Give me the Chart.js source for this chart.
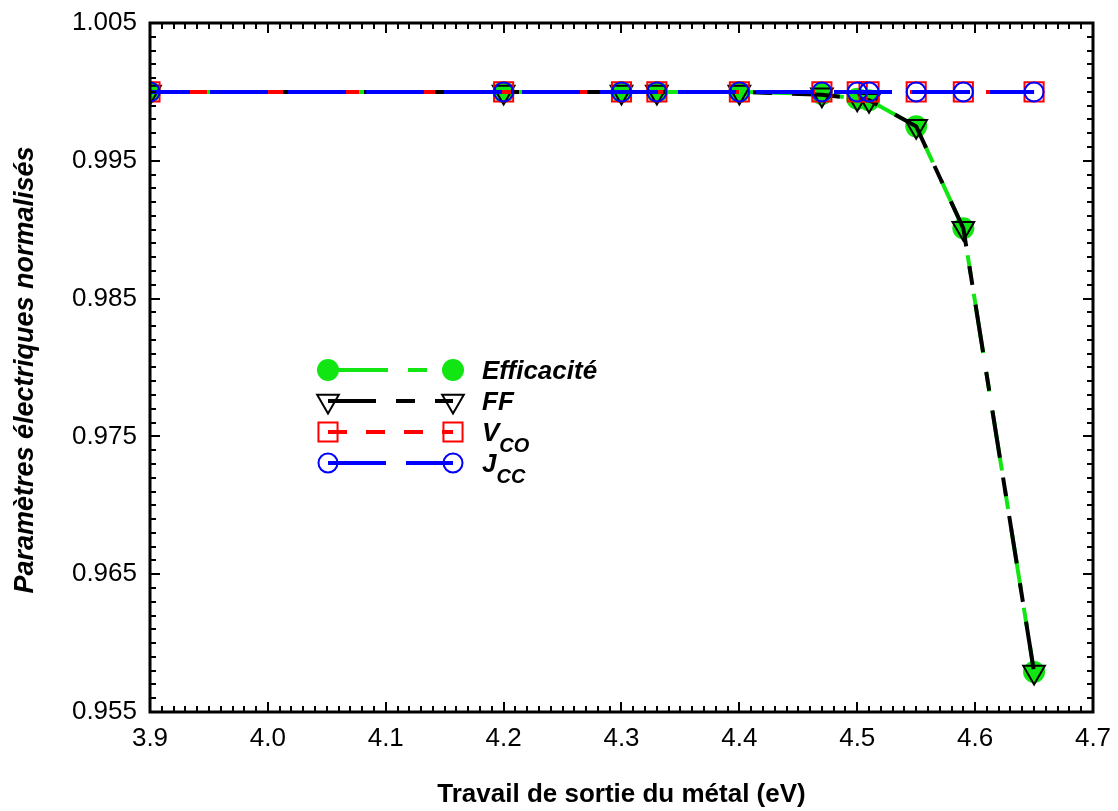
<!DOCTYPE html>
<html lang="fr">
<head>
<meta charset="utf-8">
<title>Paramètres électriques normalisés</title>
<script src="https://cdn.jsdelivr.net/npm/chart.js@4.4.1/dist/chart.umd.min.js"></script>
<style>
  html, body { margin: 0; padding: 0; background: #fff; }
  #wrap { width: 1118px; height: 811px; position: relative; }
</style>
</head>
<body>
<div id="wrap"><canvas id="chart"></canvas></div>
<script>
// travail de sortie du métal (eV)
const travail = [3.9, 4.2, 4.3, 4.33, 4.4, 4.47, 4.5, 4.51, 4.55, 4.59, 4.65];

// paramètres normalisés
const efficacite = [1, 1, 1, 1, 1, 0.99985, 0.9995, 0.9994, 0.9975, 0.9901, 0.9579];
const ff = [1, 1, 1, 1, 1, 0.9998, 0.9995, 0.9994, 0.9975, 0.9901, 0.9579];
const vco = [1, 1, 1, 1, 1, 1, 1, 1, 1, 1, 1];
const jcc = [1, 1, 1, 1, 1, 1, 1, 1, 1, 1, 1];

// graduations
const xTicks = [3.9, 4.0, 4.1, 4.2, 4.3, 4.4, 4.5, 4.6, 4.7];
const yTicks = [0.955, 0.965, 0.975, 0.985, 0.995, 1.005];

const FONT = '"Liberation Sans", Arial, Helvetica, sans-serif';
const VERT = "#12e612";

Chart.defaults.font.family = FONT;
Chart.defaults.color = "#000";

const points = (values) => travail.map((x, i) => ({ x: x, y: values[i] }));

//dessine un marqueur pour la légende
const marker = (ctx, style, x, y) => {
  ctx.save();
  ctx.setLineDash([]);
  ctx.lineWidth = 2;
  ctx.beginPath();
  if (style === "eff") {
    ctx.fillStyle = VERT;
    ctx.arc(x, y, 11, 0, Math.PI * 2);
    ctx.fill();
  } else if (style === "ff") {
    const r = 12.5;
    ctx.strokeStyle = "#000";
    ctx.moveTo(x, y + r);
    ctx.lineTo(x - r * Math.sin(Math.PI / 3), y - r / 2);
    ctx.lineTo(x + r * Math.sin(Math.PI / 3), y - r / 2);
    ctx.closePath();
    ctx.stroke();
  } else if (style === "vco") {
    const s = 13.5 * Math.SQRT1_2;
    ctx.strokeStyle = "#ff0000";
    ctx.rect(x - s, y - s, 2 * s, 2 * s);
    ctx.stroke();
  } else {
    ctx.strokeStyle = "#0000ff";
    ctx.arc(x, y, 9.5, 0, Math.PI * 2);
    ctx.stroke();
  }
  ctx.restore();
};

//pas de marge automatique autour des étiquettes, la zone du graphe suit layout.padding
const noOverhang = (scale) => {
  scale.paddingTop = 0;
  scale.paddingBottom = 0;
  scale.paddingLeft = 0;
  scale.paddingRight = 0;
};

// cadre, graduations intérieures, titres des axes et légende
const cadre = {
  id: "cadre",
  afterDraw(chart) {
    const { ctx, chartArea: a, scales } = chart;
    const x = scales.x;
    const y = scales.y;
    ctx.save();
    ctx.strokeStyle = "#000";
    ctx.lineWidth = 2;
    ctx.beginPath();
    for (let i = 0; i <= 80; i++) {
      const px = Math.round(x.getPixelForValue(3.9 + i * 0.01));
      const len = i % 10 === 0 ? 10 : 6;
      ctx.moveTo(px, a.bottom);
      ctx.lineTo(px, a.bottom - len);
      ctx.moveTo(px, a.top);
      ctx.lineTo(px, a.top + len);
    }
    for (let i = 0; i <= 50; i++) {
      const py = Math.round(y.getPixelForValue(0.955 + i * 0.001));
      const len = i % 10 === 0 ? 10 : 6;
      ctx.moveTo(a.left, py);
      ctx.lineTo(a.left + len, py);
      ctx.moveTo(a.right, py);
      ctx.lineTo(a.right - len, py);
    }
    ctx.stroke();

    ctx.lineWidth = 3;
    ctx.strokeRect(a.left, a.top, a.right - a.left, a.bottom - a.top);

    // titres
    ctx.fillStyle = "#000";
    ctx.textAlign = "center";
    ctx.textBaseline = "alphabetic";
    ctx.font = "bold 26px " + FONT;
    ctx.fillText("Travail de sortie du métal (eV)", (a.left + a.right) / 2, 802);
    ctx.save();
    ctx.translate(33, 370);
    ctx.rotate(-Math.PI / 2);
    ctx.font = "italic bold 27px " + FONT;
    ctx.fillText("Paramètres électriques normalisés", 0, 0);
    ctx.restore();

    // légende
    const rows = [
      { y: 370, color: VERT, dash: [60, 20, 19, 20], style: "eff", text: "Efficacité", sub: "" },
      { y: 401, color: "#000", dash: [48, 20, 19, 20], style: "ff", text: "FF", sub: "" },
      { y: 432, color: "#ff0000", dash: [19, 19], style: "vco", text: "V", sub: "CO" },
      { y: 463, color: "#0000ff", dash: [58, 20], style: "jcc", text: "J", sub: "CC" },
    ];
    ctx.textAlign = "left";
    rows.forEach((r) => {
      ctx.save();
      ctx.strokeStyle = r.color;
      ctx.lineWidth = 4;
      ctx.setLineDash(r.dash);
      ctx.beginPath();
      ctx.moveTo(328, r.y);
      ctx.lineTo(453, r.y);
      ctx.stroke();
      ctx.restore();
      marker(ctx, r.style, 328, r.y);
      marker(ctx, r.style, 453, r.y);
      ctx.font = "italic bold 26px " + FONT;
      ctx.fillText(r.text, 482, r.y + 9);
      if (r.sub) {
        const w = ctx.measureText(r.text).width;
        ctx.font = "italic bold 20px " + FONT;
        ctx.fillText(r.sub, 482 + w, r.y + 20);
      }
    });
    ctx.restore();
  },
};

const canvas = document.querySelector("#chart");
const ctx = canvas.getContext("2d");

new Chart(ctx, {
  type: "line",
  data: {
    datasets: [
      {
        label: "Efficacité",
        data: points(efficacite),
        borderColor: VERT,
        borderWidth: 4,
        borderDash: [60, 20, 19, 20],
        pointStyle: "circle",
        pointRadius: 11,
        pointBackgroundColor: VERT,
        pointBorderColor: VERT,
        pointBorderWidth: 0,
        order: 4,
      },
      {
        label: "FF",
        data: points(ff),
        borderColor: "#000",
        borderWidth: 4,
        borderDash: [48, 20, 19, 20],
        pointStyle: "triangle",
        pointRotation: 180,
        pointRadius: 12.5,
        pointBackgroundColor: "rgba(0,0,0,0)",
        pointBorderColor: "#000",
        pointBorderWidth: 2,
        order: 3,
      },
      {
        label: "VCO",
        data: points(vco),
        borderColor: "#ff0000",
        borderWidth: 4,
        borderDash: [19, 19],
        pointStyle: "rect",
        pointRadius: 13.5,
        pointBackgroundColor: "rgba(0,0,0,0)",
        pointBorderColor: "#ff0000",
        pointBorderWidth: 2,
        order: 2,
      },
      {
        label: "JCC",
        data: points(jcc),
        borderColor: "#0000ff",
        borderWidth: 4,
        borderDash: [58, 20],
        borderDashOffset: 18,
        pointStyle: "circle",
        pointRadius: 9.5,
        pointBackgroundColor: "rgba(0,0,0,0)",
        pointBorderColor: "#0000ff",
        pointBorderWidth: 2,
        order: 1,
      },
    ],
  },
  options: {
    responsive: true,
    maintainAspectRatio: false,
    animation: false,
    events: [],
    clip: 0,
    layout: { padding: { top: 23, right: 25, left: 0, bottom: 0 } },
    plugins: { legend: { display: false }, tooltip: { enabled: false } },
    elements: { line: { tension: 0 } },
    scales: {
      x: {
        type: "linear",
        min: 3.9,
        max: 4.7,
        grid: { display: false, drawTicks: false },
        border: { display: false },
        afterBuildTicks: (scale) => {
          scale.ticks = xTicks.map((v) => ({ value: v }));
        },
        afterFit: (scale) => {
          scale.height = 99;
          noOverhang(scale);
        },
        ticks: {
          padding: 11,
          autoSkip: false,
          maxRotation: 0,
          font: { size: 26 },
          color: "#000",
          callback: (value) => value.toFixed(1),
        },
      },
      y: {
        type: "linear",
        min: 0.955,
        max: 1.005,
        grid: { display: false, drawTicks: false },
        border: { display: false },
        afterBuildTicks: (scale) => {
          scale.ticks = yTicks.map((v) => ({ value: v }));
        },
        afterFit: (scale) => {
          scale.width = 150;
          noOverhang(scale);
        },
        ticks: {
          padding: 13,
          autoSkip: false,
          font: { size: 26 },
          color: "#000",
          callback: (value) => value.toFixed(3),
        },
      },
    },
  },
  plugins: [cadre],
});
</script>
</body>
</html>
